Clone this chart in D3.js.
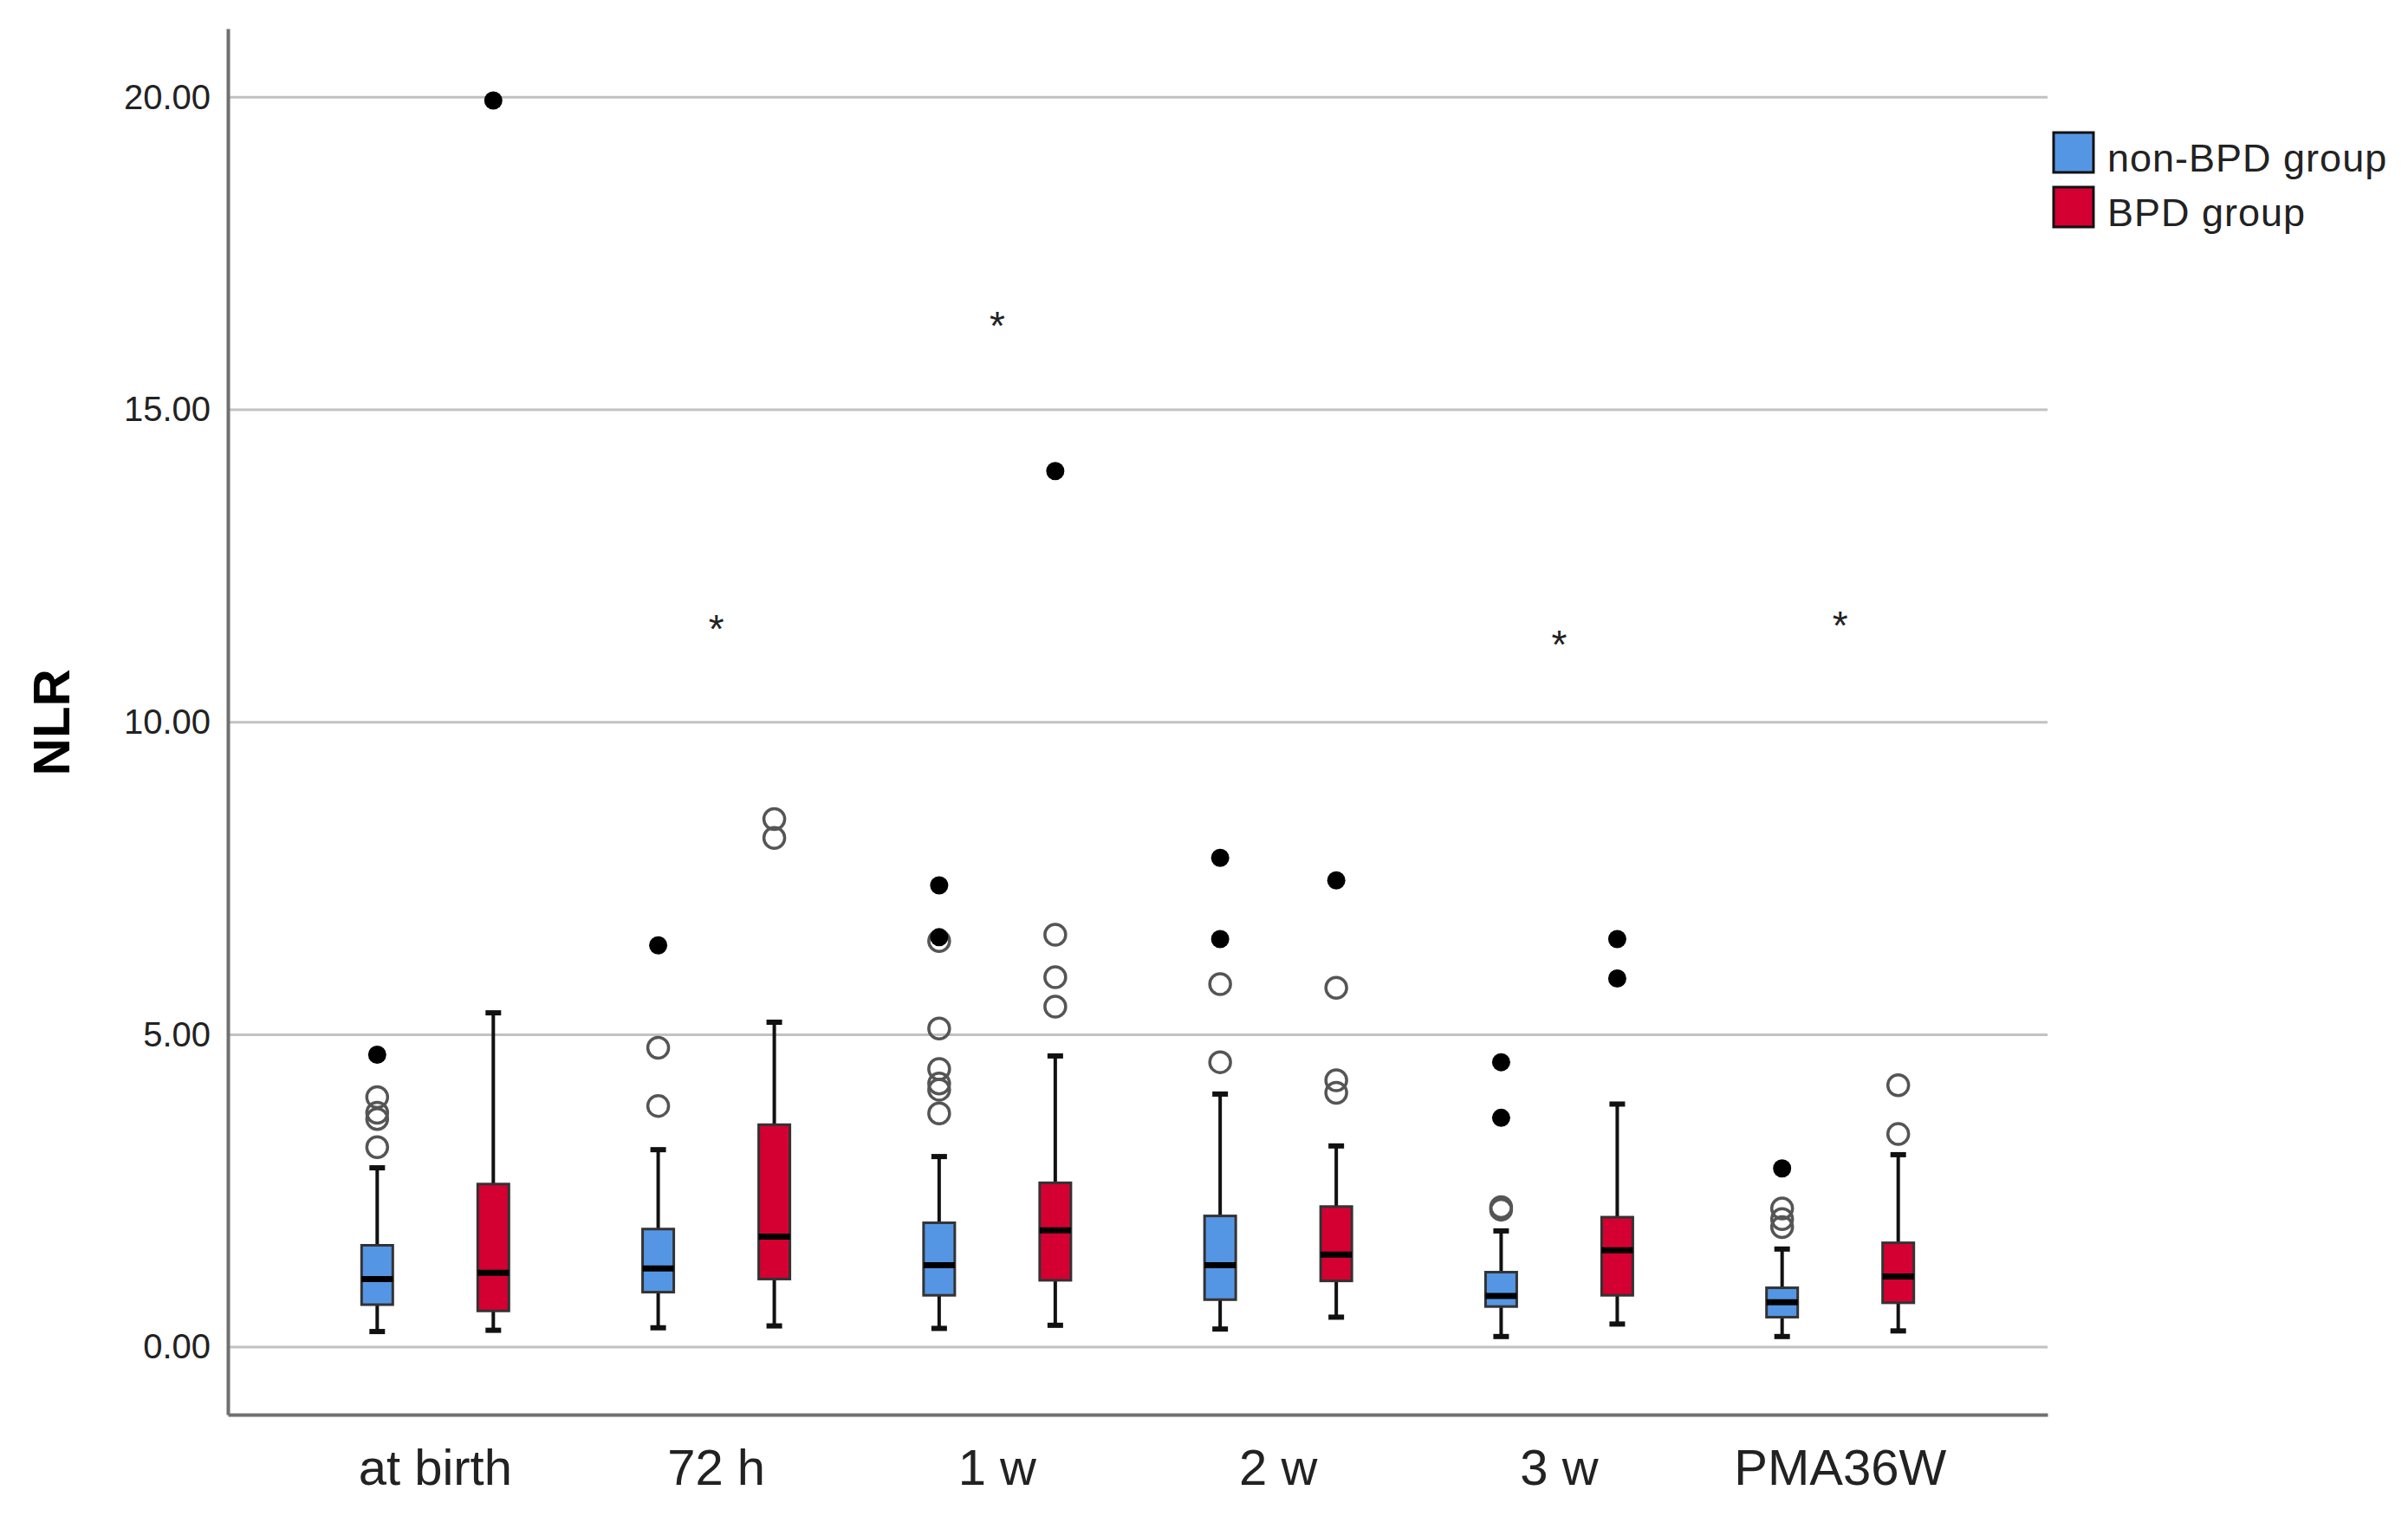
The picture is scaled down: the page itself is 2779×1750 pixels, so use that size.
<!DOCTYPE html>
<html>
<head>
<meta charset="utf-8">
<script src="https://cdn.jsdelivr.net/npm/d3@7"></script>
<style>
  body { margin: 0; background: #fff; }
  text { font-family: "Liberation Sans", Arial, sans-serif; }
</style>
</head>
<body>
<svg id="chart" width="2779" height="1750"></svg>
<script>
// categories and groups
const categories = ["at birth", "72 h", "1 w", "2 w", "3 w", "PMA36W"];
const groups = ["non-BPD group", "BPD group"];
const groupColors = ["#5596e4", "#d40032"];

// box stats per category: [lower whisker, q1, median, q3, upper whisker]
const nonBpdBoxes = [
  [0.25, 0.68, 1.09, 1.63, 2.87],
  [0.31, 0.88, 1.26, 1.89, 3.16],
  [0.30, 0.83, 1.31, 1.99, 3.05],
  [0.29, 0.76, 1.31, 2.10, 4.05],
  [0.17, 0.65, 0.82, 1.20, 1.86],
  [0.17, 0.48, 0.72, 0.95, 1.57]
];
const bpdBoxes = [
  [0.27, 0.58, 1.19, 2.61, 5.35],
  [0.34, 1.09, 1.77, 3.56, 5.20],
  [0.35, 1.07, 1.87, 2.63, 4.66],
  [0.48, 1.06, 1.48, 2.25, 3.22],
  [0.37, 0.83, 1.55, 2.08, 3.89],
  [0.26, 0.71, 1.13, 1.67, 3.08]
];

// outliers (open circles) and extremes (filled)
const nonBpdOutliers = [
  [4.00, 3.75, 3.65, 3.20],
  [4.79, 3.86],
  [6.50, 5.10, 4.45, 4.22, 4.12, 3.74],
  [5.81, 4.56],
  [2.24, 2.20],
  [2.22, 2.05, 1.92]
];
const nonBpdExtremes = [
  [4.68],
  [6.43],
  [7.39, 6.56],
  [7.83, 6.53],
  [4.56, 3.67],
  [2.86]
];
const bpdOutliers = [
  [],
  [8.45, 8.15],
  [6.60, 5.92, 5.45],
  [5.75, 4.27, 4.07],
  [],
  [4.19, 3.41]
];
const bpdExtremes = [
  [19.95],
  [],
  [14.02],
  [7.47],
  [6.53, 5.90],
  []
];

// significance asterisks (value where the mark sits, null = none)
const starValues = [null, 11.65, 16.5, null, 11.4, 11.7];

const yTicks = [0, 5, 10, 15, 20];

const svg = d3.select("#chart");

const plotLeft = 263, plotRight = 2363, plotTop = 33, plotBottom = 1633;

const x = d3.scaleBand()
  .domain(categories)
  .range([plotLeft, plotRight])
  .paddingInner(0)
  .paddingOuter(0.238);

const xg = d3.scalePoint()
  .domain(groups)
  .range([-67, 67]);

const y = d3.scaleLinear()
  .domain([-1.08, 21.1])
  .range([plotBottom, plotTop]);

const cx = c => x(c) + x.bandwidth() / 2;

// gridlines
svg.append("g")
  .selectAll("line")
  .data(yTicks)
  .join("line")
  .attr("x1", plotLeft)
  .attr("x2", plotRight)
  .attr("y1", d => y(d))
  .attr("y2", d => y(d))
  .attr("stroke", "#c2c2c2")
  .attr("stroke-width", 3);

// y axis
const yAxis = svg.append("g")
  .attr("transform", `translate(${plotLeft},0)`)
  .call(d3.axisLeft(y).tickValues(yTicks).tickFormat(d3.format(".2f")).tickSize(0).tickPadding(20));
yAxis.select(".domain").attr("stroke", "#707070").attr("stroke-width", 4);
yAxis.selectAll("text")
  .attr("font-size", 40)
  .attr("fill", "#222")
  .style("font-family", '"Liberation Sans", Arial, sans-serif');

// x axis
const xAxis = svg.append("g")
  .attr("transform", `translate(0,${plotBottom})`)
  .call(d3.axisBottom(x).tickSize(0).tickPadding(40));
xAxis.select(".domain").attr("stroke", "#707070").attr("stroke-width", 4);
xAxis.selectAll("text")
  .attr("font-size", 58)
  .attr("fill", "#222")
  .attr("dy", "0.71em")
  .style("font-family", '"Liberation Sans", Arial, sans-serif');

// y title
svg.append("text")
  .attr("transform", `translate(80,${y(10)}) rotate(-90)`)
  .attr("text-anchor", "middle")
  .attr("font-size", 60)
  .attr("font-weight", "bold")
  .attr("fill", "#000")
  .text("NLR");

// boxes
const boxW = 36, capW = 18;
const allBoxes = [nonBpdBoxes, bpdBoxes];
const allOutliers = [nonBpdOutliers, bpdOutliers];
const allExtremes = [nonBpdExtremes, bpdExtremes];

groups.forEach((gName, gi) => {
  const g = svg.append("g");
  const rows = categories.map((c, i) => ({ c, s: allBoxes[gi][i] }));
  const px = d => cx(d.c) + xg(gName);

  // whiskers
  g.selectAll(".wh")
    .data(rows)
    .join("line")
    .attr("class", "wh")
    .attr("x1", px).attr("x2", px)
    .attr("y1", d => y(d.s[0]))
    .attr("y2", d => y(d.s[4]))
    .attr("stroke", "#111")
    .attr("stroke-width", 4);

  // caps
  [0, 4].forEach(k => {
    g.selectAll(".cap" + k)
      .data(rows)
      .join("line")
      .attr("class", "cap" + k)
      .attr("x1", d => px(d) - capW / 2)
      .attr("x2", d => px(d) + capW / 2)
      .attr("y1", d => y(d.s[k]))
      .attr("y2", d => y(d.s[k]))
      .attr("stroke", "#111")
      .attr("stroke-width", 6);
  });

  // box
  g.selectAll(".box")
    .data(rows)
    .join("rect")
    .attr("class", "box")
    .attr("x", d => px(d) - boxW / 2)
    .attr("width", boxW)
    .attr("y", d => y(d.s[3]))
    .attr("height", d => y(d.s[1]) - y(d.s[3]))
    .attr("fill", groupColors[gi])
    .attr("stroke", "#333")
    .attr("stroke-width", 3);

  // median
  g.selectAll(".med")
    .data(rows)
    .join("line")
    .attr("class", "med")
    .attr("x1", d => px(d) - boxW / 2)
    .attr("x2", d => px(d) + boxW / 2)
    .attr("y1", d => y(d.s[2]))
    .attr("y2", d => y(d.s[2]))
    .attr("stroke", "#000")
    .attr("stroke-width", 7);

  // open outliers
  const outs = categories.flatMap((c, i) => allOutliers[gi][i].map(v => ({ c, v })));
  g.selectAll(".out")
    .data(outs)
    .join("circle")
    .attr("class", "out")
    .attr("cx", d => cx(d.c) + xg(gName))
    .attr("cy", d => y(d.v))
    .attr("r", 12)
    .attr("fill", "none")
    .attr("stroke", "#555")
    .attr("stroke-width", 3.5);

  // extremes
  const ext = categories.flatMap((c, i) => allExtremes[gi][i].map(v => ({ c, v })));
  g.selectAll(".ext")
    .data(ext)
    .join("circle")
    .attr("class", "ext")
    .attr("cx", d => cx(d.c) + xg(gName))
    .attr("cy", d => y(d.v))
    .attr("r", 10.5)
    .attr("fill", "#000");
});

// asterisks
svg.append("g")
  .selectAll("text")
  .data(categories.map((c, i) => ({ c, v: starValues[i] })).filter(d => d.v !== null))
  .join("text")
  .attr("x", d => cx(d.c))
  .attr("y", d => y(d.v) + 27)
  .attr("text-anchor", "middle")
  .attr("font-size", 46)
  .attr("fill", "#222")
  .text("*");

// legend
const legend = svg.append("g").attr("transform", "translate(2370,153)");
legend.selectAll("rect")
  .data(groups)
  .join("rect")
  .attr("x", 0)
  .attr("y", (d, i) => i * 63)
  .attr("width", 46)
  .attr("height", 46)
  .attr("fill", (d, i) => groupColors[i])
  .attr("stroke", "#111")
  .attr("stroke-width", 3);
legend.selectAll("text")
  .data(groups)
  .join("text")
  .attr("x", 62)
  .attr("y", (d, i) => i * 63 + 45)
  .attr("font-size", 45)
  .attr("letter-spacing", 1)
  .attr("fill", "#222")
  .text(d => d);
</script>
</body>
</html>
